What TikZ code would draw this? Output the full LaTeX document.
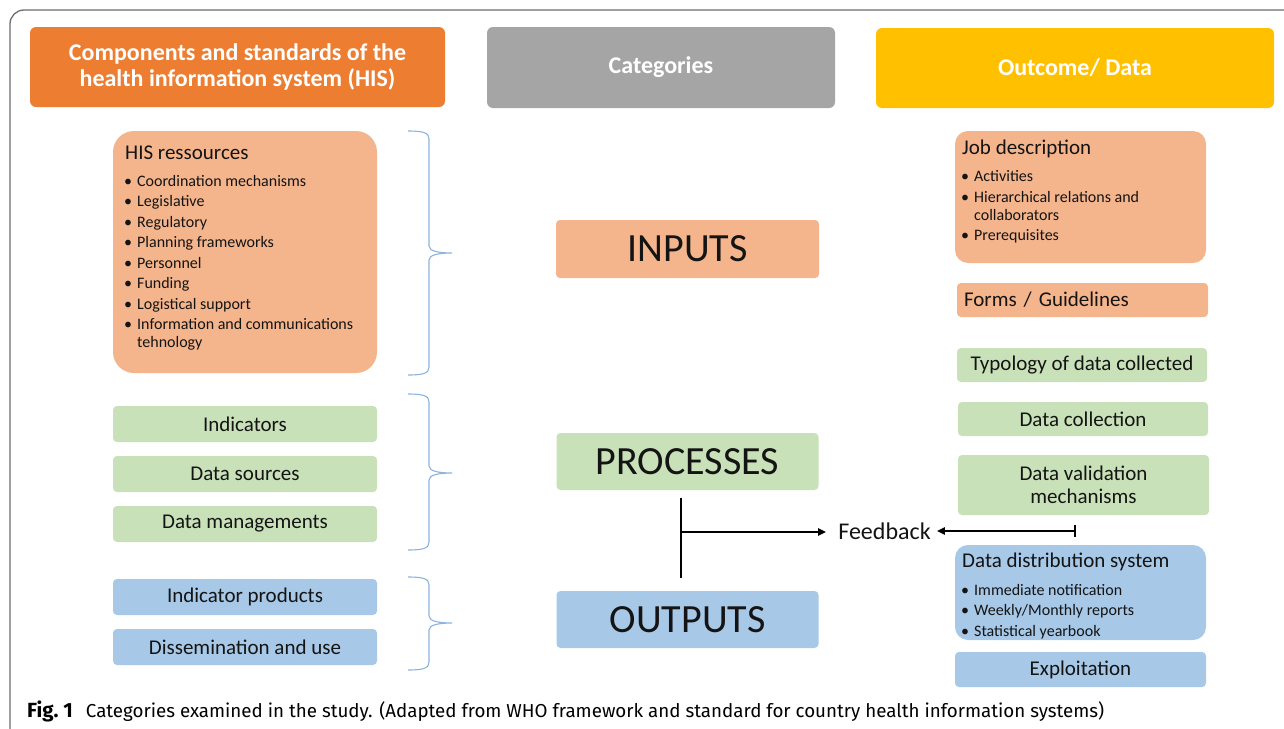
\documentclass[tikz,border=0pt]{standalone}
\usepackage{fontspec}
\setmainfont{Carlito}
\newfontfamily\capfont{Fira Sans}
\usetikzlibrary{arrows.meta}
\definecolor{hdrOrange}{HTML}{ED7D31}
\definecolor{hdrGray}{HTML}{A5A5A5}
\definecolor{hdrYellow}{HTML}{FFC000}
\definecolor{boxOrange}{HTML}{F4B58C}
\definecolor{boxGreen}{HTML}{C9E1B8}
\definecolor{boxBlue}{HTML}{A7C8E7}
\definecolor{braceBlue}{HTML}{8DB4E0}
\definecolor{frameGray}{HTML}{6E6E6E}
\definecolor{txt}{HTML}{141414}
\newcommand\myfs[2]{\fontsize{#1}{#2}\selectfont}
\newcommand\mybrace[3]{%
  \draw[bracestyle] (408,#1) .. controls (424,#1) and (429,{#1+2}) .. (429,{#1+8})
    -- (429,{#2-7}) .. controls (429,{#2-2}) and (438,#2) .. (452,#2)
    .. controls (438,#2) and (429,{#2+2}) .. (429,{#2+7})
    -- (429,{#3-8}) .. controls (429,{#3-2}) and (424,#3) .. (408,#3);}
\begin{document}
\begin{tikzpicture}[x=1pt,y=-1pt,
  hdr/.style={rectangle, rounded corners=6pt, inner sep=0pt, text=white, align=center, font=\bfseries\myfs{24}{26}},
  bigbox/.style={rectangle, rounded corners=4pt, inner sep=0pt, text=txt, font=\myfs{40}{44}},
  smallbox/.style={rectangle, rounded corners=4pt, inner sep=0pt, text=txt, align=center, font=\myfs{21}{23}},
  listbox/.style={rectangle, rounded corners=13pt, inner sep=0pt},
  listtitle/.style={anchor=base west, inner sep=0pt, text=txt, font=\myfs{21}{23}},
  listitem/.style={anchor=base west, inner sep=0pt, text=txt, font=\myfs{16}{18}},
  bracestyle/.style={draw=braceBlue, line width=1.1pt},
  conn/.style={draw=black, line width=2.3pt},
  frame/.style={draw=frameGray, line width=1.3pt, rounded corners=14pt}]
\useasboundingbox (0,0) rectangle (1284,728);
\fill[white] (0,0) rectangle (1284,728);
% outer frame
\draw[frame] (10,760) -- (10,10) -- (1320,10);

% headers
\node[hdr, fill=hdrOrange, minimum width=415pt, minimum height=80pt] (h1) at (237.5,67) {Components and standards of the\\health information system (HIS)};
\node[hdr, fill=hdrGray, minimum width=348pt, minimum height=81pt] (h2) at (661,67.5) {Categories};
\node[hdr, fill=hdrYellow, minimum width=398pt, minimum height=80pt] (h3) at (1075,68) {Outcome/ Data};

% HIS resources
\node[listbox, fill=boxOrange, rounded corners=21pt, minimum width=264pt, minimum height=242pt] (his) at (245,252) {};
\node[listtitle] (hisT) at (125,159) {HIS ressources};
\foreach \y/\t [count=\i] in {186/Coordination mechanisms, 206.5/Legislative, 227/Regulatory, 247.5/Planning frameworks, 268/Personnel, 288.5/Funding, 309/Logistical support, 329.5/Information and communications}
  \node[listitem] (hisI\i) at (124,\y) {\makebox[13pt][l]{\textbullet}\t};
\node[listitem] (hisI9) at (137,347.5) {tehnology};

% left green / blue boxes
\node[smallbox, fill=boxGreen, minimum width=264pt, minimum height=36pt] (ind) at (245,424) {Indicators};
\node[smallbox, fill=boxGreen, minimum width=264pt, minimum height=36pt] (dsrc) at (245,474) {Data sources};
\node[smallbox, fill=boxGreen, minimum width=264pt, minimum height=36pt] (dman) at (245,524) {Data managements};
\node[smallbox, fill=boxBlue, minimum width=264pt, minimum height=36pt] (iprod) at (245,597) {Indicator products};
\node[smallbox, fill=boxBlue, minimum width=264pt, minimum height=36pt] (diss) at (245,647) {Dissemination and use};

% braces
\mybrace{131}{253}{375}
\mybrace{394}{473}{550}
\mybrace{577}{623}{670}

% categories
\node[bigbox, fill=boxOrange, minimum width=263pt, minimum height=58pt] (inputs) at (687.5,249) {INPUTS};
\node[bigbox, fill=boxGreen, minimum width=262pt, minimum height=57pt] (proc) at (687.5,461.5) {PROCESSES};
\node[bigbox, fill=boxBlue, minimum width=262pt, minimum height=57pt] (outputs) at (687.5,619.5) {OUTPUTS};

% feedback
\node[inner sep=0pt, text=txt, font=\myfs{24}{26}] (fb) at (884.5,531) {Feedback};
\coordinate (tTop) at (681,498);
\coordinate (tBot) at (681,578);
\coordinate (tMid) at (681,532);
\coordinate (barEnd) at (1076,531);
\draw[conn] (tTop) -- (tBot);
\draw[conn, line width=2pt, -{Triangle[length=8pt,width=7pt]}, shorten >=12pt] (tMid) -- (tMid -| fb.west);
\draw[conn, line width=2pt, {Bar[width=12pt,line width=2pt]}-{Triangle[length=8pt,width=7pt]}, shorten >=6pt] (barEnd) -- (fb.east);

% right column
\node[listbox, fill=boxOrange, minimum width=251pt, minimum height=132pt] (job) at (1080.5,197) {};
\node[listtitle] (jobT) at (962,154) {Job description};
\foreach \y/\t [count=\i] in {181.5/Activities, 202.5/Hierarchical relations and, 240.5/Prerequisites}
  \node[listitem] (jobI\i) at (961,\y) {\makebox[13pt][l]{\textbullet}\t};
\node[listitem] (jobI4) at (974,220.5) {collaborators};

\node[smallbox, fill=boxOrange, minimum width=251pt, minimum height=34pt, text width=237pt, align=left, inner xsep=7pt] (forms) at (1082.5,300) {Forms / Guidelines};
\node[smallbox, fill=boxGreen, minimum width=250pt, minimum height=34pt] (typo) at (1082,365) {Typology of data collected};
\node[smallbox, fill=boxGreen, minimum width=250pt, minimum height=34pt] (dcol) at (1083,419) {Data collection};
\node[smallbox, fill=boxGreen, minimum width=251pt, minimum height=60pt] (dval) at (1083.5,485) {Data validation\\mechanisms};

\node[listbox, fill=boxBlue, minimum width=251pt, minimum height=95pt] (dist) at (1080.5,592.5) {};
\node[listtitle] (distT) at (962,567) {Data distribution system};
\foreach \y/\t [count=\i] in {595/{Immediate notification}, 615.7/{Weekly/Monthly reports}, 636/{Statistical yearbook}}
  \node[listitem] (distI\i) at (961,\y) {\makebox[13pt][l]{\textbullet}\t};
\node[smallbox, fill=boxBlue, minimum width=251pt, minimum height=35pt] (expl) at (1080.5,669.5) {Exploitation};

% caption
\node[anchor=base west, inner sep=0pt, text=black, font=\capfont\myfs{18.75}{21}] (cap) at (27,717) {{\bfseries\myfs{20.5}{22}Fig.~1}\hspace{13pt}Categories examined in the study. (Adapted from WHO framework and standard for country health information systems)};
\end{tikzpicture}
\end{document}
